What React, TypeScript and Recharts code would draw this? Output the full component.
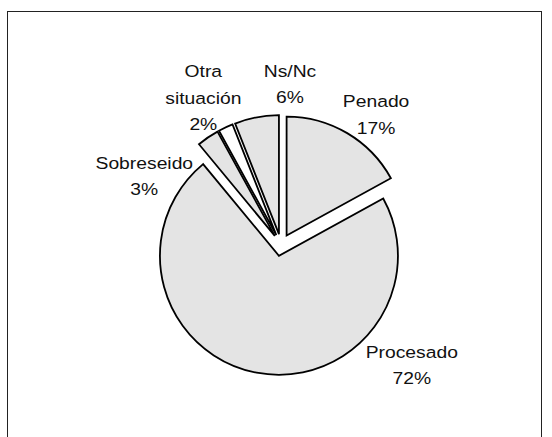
import { PieChart, Pie, Cell, Sector, Tooltip } from "recharts";

const CATEGORIES = ["Penado", "Procesado", "Sobreseido", "Otra situación", "Ns/Nc"];
const SHARES = [17, 72, 3, 2, 6];

const GRAY = "#e4e4e4";
const WHITE = "#ffffff";
const INK = "#000000";
const FILLS = [GRAY, GRAY, GRAY, WHITE, GRAY];

// label placement, polar around the pie centre (degrees, px)
const LABEL_ANGLE = [53.8, -42.7, 153.3, 117.9, 86.8];
const LABEL_RADIUS = [161, 178, 153, 166, 161];

const CX = 281;
const CY = 245;
const R = 119;
const EXPLODE = 11;
const RAD = Math.PI / 180;
const FONT = "'Liberation Sans', Arial, sans-serif";

const data = CATEGORIES.map((name, i) => ({ name, value: SHARES[i] }));

function ExplodedSlice(props: any) {
  const { cx, cy, midAngle } = props;
  const dx = EXPLODE * Math.cos(-midAngle * RAD);
  const dy = EXPLODE * Math.sin(-midAngle * RAD);
  return <Sector {...props} cx={cx + dx} cy={cy + dy} />;
}

function SliceLabel(props: any) {
  const { cx, cy, index, name, value } = props;
  const a = LABEL_ANGLE[index];
  const r = LABEL_RADIUS[index];
  const x = cx + r * Math.cos(-a * RAD);
  const y = cy + r * Math.sin(-a * RAD);
  const lines = [...String(name).split(" "), `${value}%`];
  const step = 26.5;
  return (
    <g transform={`translate(${x} ${y}) scale(1.17 1)`}>
      {lines.map((t, i) => (
        <text
          key={i}
          x={0}
          y={(i - (lines.length - 1) / 2) * step}
          textAnchor="middle"
          dominantBaseline="central"
          fontFamily={FONT}
          fontSize={16.5}
          fill="#111"
        >
          {t}
        </text>
      ))}
    </g>
  );
}

export default function App() {
  return (
    <div style={{ position: "absolute", left: 0, top: 0, width: 552, height: 437, background: "#fff", overflow: "hidden" }}>
      {/* frame, runs off the bottom like the original */}
      <div
        style={{
          position: "absolute",
          left: 7,
          top: 11,
          width: 535,
          height: 460,
          borderLeft: "1.5px solid #222",
          borderTop: "1.5px solid #222",
          borderRight: "1.5px solid #222",
          boxSizing: "border-box",
        }}
      />
      <div style={{ position: "absolute", left: 0, top: 0 }}>
        <PieChart width={552} height={437} margin={{ top: 0, right: 0, bottom: 0, left: 0 }}>
          <Pie
            data={data}
            dataKey="value"
            nameKey="name"
            cx={CX}
            cy={CY}
            outerRadius={R}
            startAngle={90}
            endAngle={-270}
            stroke={INK}
            strokeWidth={1.8}
            labelLine={false}
            label={SliceLabel}
            shape={ExplodedSlice}
            activeShape={ExplodedSlice}
            inactiveShape={ExplodedSlice}
            isAnimationActive={false}
          >
            {data.map((d, i) => (
              <Cell key={d.name} fill={FILLS[i]} stroke={INK} />
            ))}
          </Pie>
          <Tooltip defaultIndex={0} content={() => null} cursor={false} />
        </PieChart>
      </div>
    </div>
  );
}
